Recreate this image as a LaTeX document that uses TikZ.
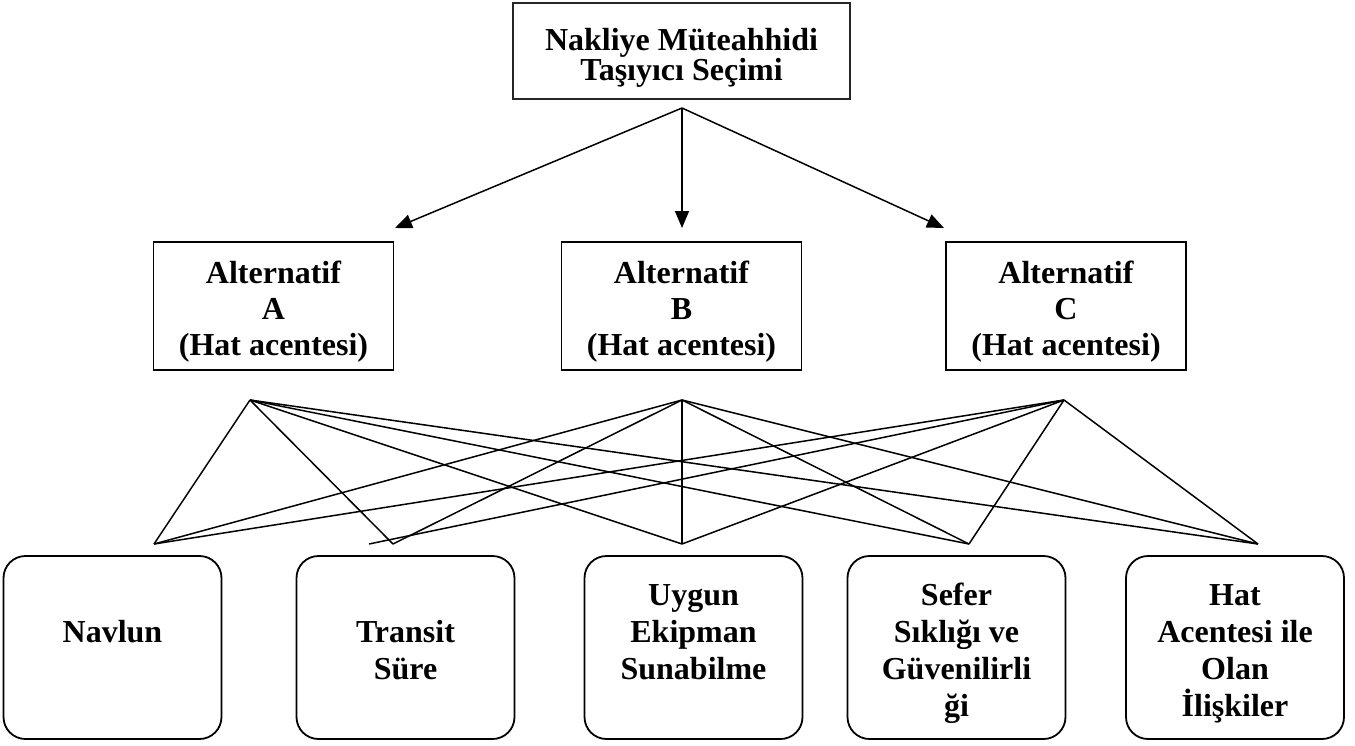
\documentclass[tikz,border=0pt]{standalone}
\usepackage{fontspec}
\setmainfont{Liberation Serif}
\usetikzlibrary{arrows.meta}
% invisible strut that fixes the height of the first text line
\newcommand\lnstrut{\rule{0pt}{28pt}}
\tikzset{
  goalbox/.style={draw=black!85, line width=2.2pt, inner sep=0pt, minimum width=337pt, minimum height=96pt},
  altbox/.style={draw, line width=1.8pt, inner sep=0pt, minimum width=240pt, minimum height=128pt},
  critbox/.style={draw, line width=1.8pt, rounded corners=22pt, inner sep=0pt, minimum width=218pt, minimum height=183pt},
  boxtext/.style={anchor=north, inner sep=0pt, align=center, font=\fontsize{32}{37}\selectfont\bfseries},
  wire/.style={line width=1.5pt},
  arrowlink/.style={line width=1.5pt, -{Triangle[length=17pt,width=14pt]}},
}
\begin{document}
\begin{tikzpicture}[x=1pt,y=-1pt]
\useasboundingbox (0,0) rectangle (1355,745);

% goal
\node[goalbox] (goal) at (681.5,51) {};
\node[boxtext, font=\fontsize{32}{30}\selectfont\bfseries] (goal-t) at (681.5,22)
  {\lnstrut Nakliye Müteahhidi\\Taşıyıcı Seçimi};

% alternatives
\node[altbox] (altA) at (273.5,306) {};
\node[boxtext, font=\fontsize{32}{36}\selectfont\bfseries] (altA-t) at (273.5,255) {\lnstrut Alternatif\\A\\(Hat acentesi)};
\node[altbox] (altB) at (681.5,306) {};
\node[boxtext, font=\fontsize{32}{36}\selectfont\bfseries] (altB-t) at (681.5,255) {\lnstrut Alternatif\\B\\(Hat acentesi)};
\node[altbox] (altC) at (1066,306) {};
\node[boxtext, font=\fontsize{32}{36}\selectfont\bfseries] (altC-t) at (1066,255) {\lnstrut Alternatif\\C\\(Hat acentesi)};

% criteria
\node[critbox] (crit1) at (112.5,647.5) {};
\node[boxtext] (crit1-t) at (112.5,614) {\lnstrut Navlun};
\node[critbox] (crit2) at (405.5,647.5) {};
\node[boxtext] (crit2-t) at (405.5,614) {\lnstrut Transit\\Süre};
\node[critbox] (crit3) at (693.5,647.5) {};
\node[boxtext] (crit3-t) at (693.5,577) {\lnstrut Uygun\\Ekipman\\Sunabilme};
\node[critbox] (crit4) at (956.5,647.5) {};
\node[boxtext] (crit4-t) at (956.5,577) {\lnstrut Sefer\\Sıklığı ve\\Güvenilirli\\ği};
\node[critbox] (crit5) at (1235,647.5) {};
\node[boxtext] (crit5-t) at (1235,577) {\lnstrut Hat\\Acentesi ile\\Olan\\İlişkiler};

% branching arrows from the goal
\coordinate (fork) at (682,108);
\coordinate (tipA) at (395,228);
\coordinate (tipB) at (682,228);
\coordinate (tipC) at (944,228);
\draw[arrowlink] (fork) -- (tipA);
\draw[arrowlink] (fork) -- (tipB);
\draw[arrowlink] (fork) -- (tipC);

% hubs under the alternatives and entry points above the criteria
\coordinate (hubA) at (250,400);
\coordinate (hubB) at (682,400);
\coordinate (hubC) at (1064,400);
\coordinate (in1) at (154,544);
\coordinate (in2) at (393,544);
\coordinate (in2b) at (369,544);
\coordinate (in3) at (682,544);
\coordinate (in4) at (969,544);
\coordinate (in5) at (1258,544);

\foreach \h in {hubA,hubB}
  \foreach \c in {in1,in2,in3,in4,in5}
    \draw[wire] (\h) -- (\c);
\foreach \c in {in1,in2b,in3,in4,in5}
  \draw[wire] (hubC) -- (\c);
\end{tikzpicture}
\end{document}
